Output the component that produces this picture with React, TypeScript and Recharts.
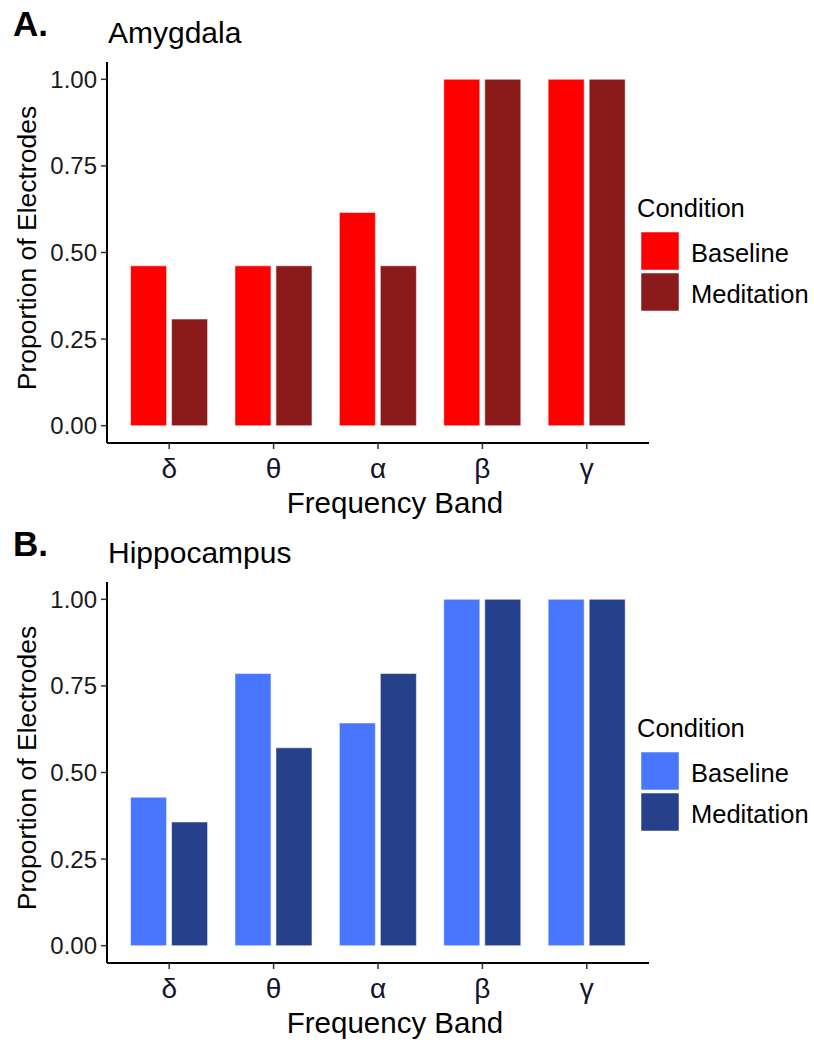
import { BarChart, Bar, XAxis, YAxis } from 'recharts'

const bands = ['δ', 'θ', 'α', 'β', 'γ']
const amygdalaBaseline = [0.4615, 0.4615, 0.6154, 1, 1]
const amygdalaMeditation = [0.3077, 0.4615, 0.4615, 1, 1]
const hippocampusBaseline = [0.4286, 0.7857, 0.6429, 1, 1]
const hippocampusMeditation = [0.3571, 0.5714, 0.7857, 1, 1]
const yTicks = [0, 0.25, 0.5, 0.75, 1]
const conditions = ['Baseline', 'Meditation']

const FONT = '"Liberation Sans", Arial, Helvetica, sans-serif'
const W = 814
const H = 520

type PanelProps = {
  letter: string
  title: string
  baseline: number[]
  meditation: number[]
  colors: [string, string]
  top: number
}

function Panel({ letter, title, baseline, meditation, colors, top }: PanelProps) {
  const data = bands.map((band, i) => ({ band, baseline: baseline[i], meditation: meditation[i] }))

  return (
    <div style={{ position: 'absolute', left: 0, top, width: W, height: H }}>
      <BarChart
        width={W}
        height={H}
        data={data}
        margin={{ top: 62, right: 165, bottom: 0, left: 0 }}
        barCategoryGap="13%"
        barGap={5}
      >
        <XAxis
          dataKey="band"
          height={77}
          padding={{ left: 10, right: 10 }}
          tickSize={6}
          tickMargin={9}
          axisLine={{ stroke: '#000', strokeWidth: 2 }}
          tickLine={{ stroke: '#333', strokeWidth: 1.5 }}
          tick={{ fontSize: 28, fill: '#14142a', fontFamily: FONT }}
        />
        <YAxis
          width={107}
          domain={[-0.05, 1.05]}
          ticks={yTicks}
          allowDataOverflow
          tickFormatter={(v: number) => v.toFixed(2)}
          tickSize={6}
          tickMargin={4}
          axisLine={{ stroke: '#000', strokeWidth: 2 }}
          tickLine={{ stroke: '#333', strokeWidth: 1.5 }}
          tick={{ fontSize: 24, fill: '#1a1a1a', fontFamily: FONT }}
        />
        <Bar dataKey="baseline" name="Baseline" fill={colors[0]} stroke="#ffffff" strokeWidth={0.5} isAnimationActive={false} />
        <Bar dataKey="meditation" name="Meditation" fill={colors[1]} stroke="#ffffff" strokeWidth={0.5} isAnimationActive={false} />
      </BarChart>

      <svg width={W} height={H} style={{ position: 'absolute', left: 0, top: 0, pointerEvents: 'none' }}>
        <text x={13} y={36} fontFamily={FONT} fontWeight="bold" fontSize={35} fill="#000">{letter}</text>
        <text x={108} y={43} fontFamily={FONT} fontSize={30} fill="#000">{title}</text>
        <text
          x={0}
          y={0}
          transform="translate(36,248) rotate(-90)"
          textAnchor="middle"
          fontFamily={FONT}
          fontSize={26.5}
          fill="#000"
        >
          Proportion of Electrodes
        </text>
        <text x={395} y={513} textAnchor="middle" fontFamily={FONT} fontSize={29.5} fill="#000">Frequency Band</text>

        {/* legend */}
        <text x={637} y={217} fontFamily={FONT} fontSize={25.5} fill="#000">Condition</text>
        {conditions.map((c, i) => (
          <g key={c}>
            <rect x={641} y={232 + i * 41} width={38} height={38} fill={colors[i]} stroke="#ffffff" strokeWidth={0.5} />
            <text x={691} y={262 + i * 41} fontFamily={FONT} fontSize={25.5} fill="#000">{c}</text>
          </g>
        ))}
      </svg>
    </div>
  )
}

export default function App() {
  return (
    <div style={{ position: 'absolute', left: 0, top: 0, width: W, height: 1042, background: '#fff' }}>
      <Panel
        letter="A."
        title="Amygdala"
        baseline={amygdalaBaseline}
        meditation={amygdalaMeditation}
        colors={['#FF0000', '#8B1A1A']}
        top={0}
      />
      <Panel
        letter="B."
        title="Hippocampus"
        baseline={hippocampusBaseline}
        meditation={hippocampusMeditation}
        colors={['#4876FF', '#27408B']}
        top={520}
      />
    </div>
  )
}
